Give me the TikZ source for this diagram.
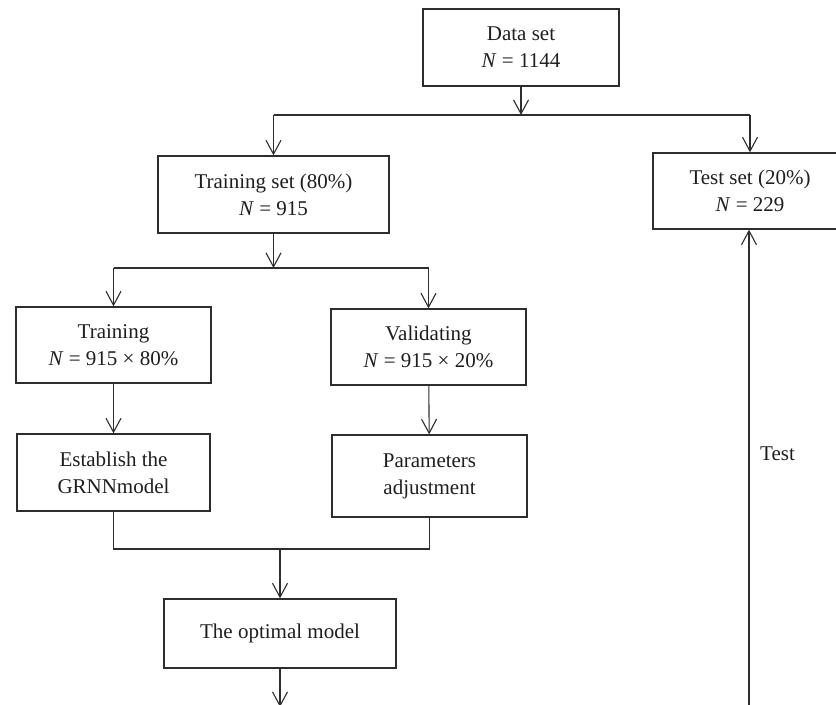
\documentclass[tikz,border=0pt]{standalone}
\usepackage{fontspec}
\setmainfont{Liberation Serif}
\usetikzlibrary{arrows.meta}
\definecolor{fc-line}{RGB}{45, 45, 45}
\definecolor{fc-text}{RGB}{30, 30, 30}

\begin{document}
\begin{tikzpicture}[x=0.5pt, y=-0.5pt,
    box/.style={rectangle, draw=fc-line, line width=0.65pt, text=fc-text, align=center, inner sep=2pt,
        font=\fontsize{10.5}{13.5}\selectfont},
    link/.style={draw=fc-line, line width=0.55pt},
    arr/.style={link, -{Straight Barb[length=7pt, width=7.5pt, line width=0.55pt]}}]
    \useasboundingbox (0,0) rectangle (836,705);
    \clip (0,0) rectangle (836,705);

    \node[box, minimum width=98pt, minimum height=38.5pt] (data) at (521,47.5) {Data set\\\textit{N} = 1144};
    \node[box, minimum width=115.5pt, minimum height=38.5pt] (trainset) at (273.5,194.5) {Training set (80\%)\\\textit{N} = 915};
    \node[box, minimum width=97pt, minimum height=38pt] (testset) at (750,191) {Test set (20\%)\\\textit{N} = 229};
    \node[box, minimum width=97.5pt, minimum height=38pt] (training) at (113.5,345) {Training\\\textit{N} = 915 × 80\%};
    \node[box, minimum width=97.5pt, minimum height=38pt] (valid) at (428.5,347) {Validating\\\textit{N} = 915 × 20\%};
    \node[box, minimum width=96.5pt, minimum height=38.5pt] (grnn) at (113.5,472.5) {Establish the\\GRNNmodel};
    \node[box, minimum width=97.5pt, minimum height=41pt] (params) at (429.5,476) {Parameters\\adjustment};
    \node[box, minimum width=116pt, minimum height=34.5pt] (optimal) at (280,633.5) {The optimal model};

    \coordinate (split1) at (521,115);
    \coordinate (split2) at (273.5,268);
    \coordinate (join) at (280,549);
    \coordinate (out) at (280,707);
    \coordinate (back) at (749,707);

    % data set split
    \draw[arr] (data) -- (split1);
    \draw[link] (trainset.north |- split1) -- (testset.north |- split1);
    \draw[arr] (trainset.north |- split1) -- (trainset.north);
    \draw[arr] (testset.north |- split1) -- (testset.north);

    % training set split
    \draw[arr] (trainset) -- (split2);
    \draw[link] (training.north |- split2) -- (valid.north |- split2);
    \draw[arr] (training.north |- split2) -- (training.north);
    \draw[arr] (valid.north |- split2) -- (valid.north);

    \draw[arr] (training) -- (grnn);
    \draw[arr] (valid) -- (params);

    % merge into the optimal model
    \draw[link] (grnn.south) -- (grnn.south |- join) -- (params.south |- join) -- (params.south);
    \draw[arr] (join) -- (optimal);
    \draw[arr] (optimal) -- (out);

    % test loop
    \draw[arr] (back) -- node[pos=0.53, right=2pt, text=fc-text, font=\fontsize{10.5}{13.5}\selectfont] (testlbl) {Test} (testset.south -| back);
\end{tikzpicture}
\end{document}
